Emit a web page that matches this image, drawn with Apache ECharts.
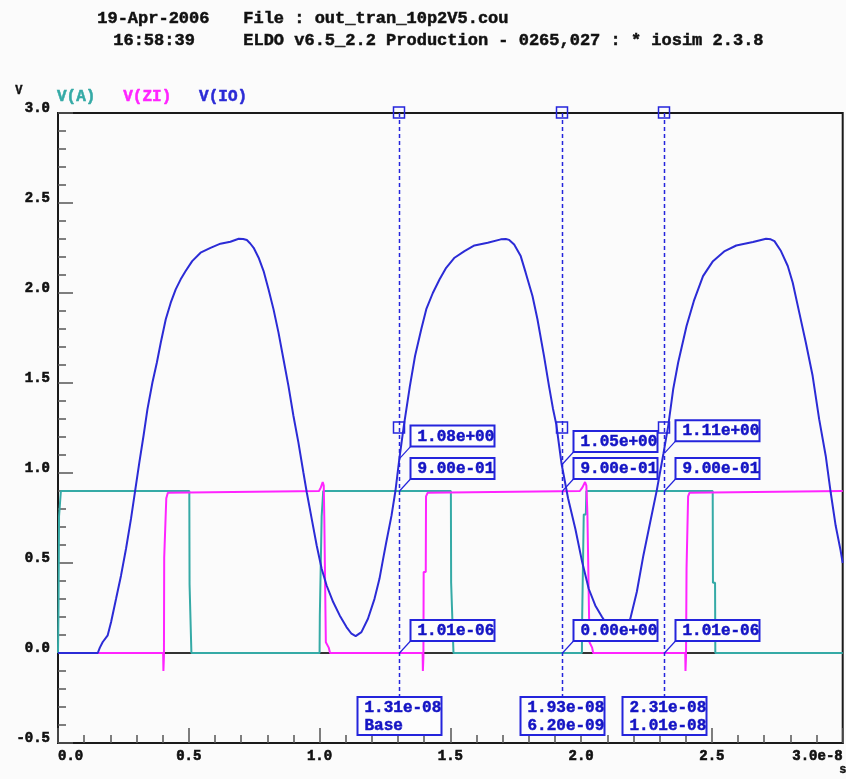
<!DOCTYPE html>
<html>
<head>
<meta charset="utf-8">
<title>ELDO transient plot</title>
<script src="https://cdn.jsdelivr.net/npm/echarts@6/dist/echarts.min.js"></script>
<style>
  html, body { margin: 0; padding: 0; background: #fbfbfb; }
  #chart { width: 846px; height: 779px; }
</style>
</head>
<body>
<div id="chart"></div>
<script>
// Time values are in units of 1e-8 s; voltages in V.
const TIME_UNIT = 1e-8;

const xTickLabels = ['0.0', '0.5', '1.0', '1.5', '2.0', '2.5', '3.0e-8'];
const yTickLabels = ['-0.5', '0.0', '0.5', '1.0', '1.5', '2.0', '2.5', '3.0'];

const headerLines = [
  ['19-Apr-2006', 'File : out_tran_10p2V5.cou'],
  ['16:58:39', 'ELDO v6.5_2.2 Production - 0265,027 : * iosim 2.3.8']
];

// V(A): input square wave
const vA = [
  [0, 0], [0.002, 0.26], [0.004, 0.76], [0.010, 0.76], [0.011, 0.9],
  [0.502, 0.9], [0.503, 0.38], [0.509, 0.38], [0.510, 0],
  [1.000, 0], [1.001, 0.21], [1.007, 0.21], [1.008, 0.76], [1.013, 0.76], [1.014, 0.9],
  [1.502, 0.9], [1.503, 0.39], [1.510, 0.39], [1.512, 0],
  [2.003, 0], [2.004, 0.20], [2.009, 0.20], [2.010, 0.77], [2.018, 0.77], [2.020, 0.9],
  [2.503, 0.9], [2.504, 0.39], [2.512, 0.39], [2.513, 0], [3.0, 0]
];

// V(ZI): enable output with glitches at the edges
const vZI = [
  [0, 0], [0.402, 0], [0.403, -0.10], [0.405, -0.02], [0.406, 0.53], [0.413, 0.53],
  [0.414, 0.86], [0.420, 0.89], [0.425, 0.9],
  [0.998, 0.9], [1.005, 0.92], [1.012, 0.95], [1.016, 0.93], [1.018, 0.76], [1.023, 0.76],
  [1.024, 0.06], [1.035, 0.03], [1.040, 0],
  [1.394, 0], [1.395, -0.10], [1.397, -0.02], [1.398, 0.45], [1.406, 0.45],
  [1.407, 0.87], [1.413, 0.89], [1.420, 0.9],
  [1.995, 0.9], [2.005, 0.92], [2.015, 0.95], [2.020, 0.93], [2.024, 0.77], [2.030, 0.77],
  [2.032, 0.06], [2.042, 0.03], [2.046, 0],
  [2.398, 0], [2.399, -0.10], [2.401, -0.02], [2.403, 0.47], [2.408, 0.47],
  [2.409, 0.87], [2.414, 0.89], [2.418, 0.9], [3.0, 0.9]
];

// V(IO): pad voltage
const vIO = [
  [0, 0], [0.152, 0], [0.160, 0.03], [0.171, 0.061], [0.190, 0.098], [0.203, 0.172],
  [0.222, 0.301], [0.241, 0.431], [0.260, 0.579], [0.279, 0.745], [0.295, 0.902],
  [0.311, 1.059], [0.327, 1.207], [0.342, 1.355], [0.361, 1.503], [0.378, 1.614],
  [0.393, 1.725], [0.412, 1.854], [0.431, 1.946], [0.450, 2.020], [0.469, 2.076],
  [0.488, 2.122], [0.513, 2.177], [0.545, 2.224], [0.583, 2.251], [0.621, 2.274],
  [0.659, 2.285], [0.691, 2.301], [0.708, 2.300], [0.722, 2.294], [0.735, 2.275],
  [0.748, 2.251], [0.767, 2.196], [0.786, 2.122], [0.805, 2.020], [0.824, 1.909],
  [0.843, 1.780], [0.862, 1.632], [0.881, 1.484], [0.900, 1.318], [0.919, 1.170],
  [0.938, 1.004], [0.951, 0.893], [0.970, 0.745], [0.989, 0.597], [1.008, 0.468],
  [1.027, 0.375], [1.052, 0.283], [1.077, 0.209], [1.103, 0.144], [1.122, 0.107],
  [1.138, 0.094], [1.160, 0.116], [1.185, 0.190], [1.210, 0.301], [1.229, 0.412],
  [1.243, 0.523], [1.255, 0.615], [1.275, 0.763], [1.290, 0.900], [1.3051, 1.080],
  [1.322, 1.260], [1.345, 1.480], [1.365, 1.650], [1.389, 1.800], [1.408, 1.910],
  [1.433, 2.000], [1.459, 2.076], [1.484, 2.140], [1.516, 2.196], [1.554, 2.233],
  [1.592, 2.264], [1.643, 2.279], [1.693, 2.298], [1.712, 2.300], [1.725, 2.295],
  [1.744, 2.270], [1.769, 2.205], [1.788, 2.113], [1.814, 1.983], [1.833, 1.854],
  [1.858, 1.651], [1.877, 1.484], [1.892, 1.360], [1.905, 1.270], [1.9253, 1.050],
  [1.950, 0.860], [1.978, 0.689], [2.004, 0.505], [2.029, 0.357], [2.054, 0.264],
  [2.080, 0.200], [2.105, 0.145], [2.122, 0.108], [2.138, 0.095], [2.160, 0.116],
  [2.188, 0.190], [2.213, 0.340], [2.238, 0.542], [2.264, 0.726], [2.289, 0.902],
  [2.3149, 1.110], [2.333, 1.262], [2.352, 1.466], [2.371, 1.614], [2.403, 1.817],
  [2.431, 1.956], [2.466, 2.094], [2.504, 2.177], [2.549, 2.233], [2.593, 2.264],
  [2.657, 2.283], [2.707, 2.301], [2.725, 2.298], [2.739, 2.288], [2.764, 2.233],
  [2.790, 2.150], [2.809, 2.057], [2.834, 1.891], [2.859, 1.725], [2.885, 1.540],
  [2.910, 1.299], [2.935, 1.096], [2.954, 0.893], [2.973, 0.708], [2.992, 0.569],
  [3.0, 0.50]
];

const cursorTimes = [1.3051, 1.9253, 2.3149];
const ioReadout = [1.08, 1.05, 1.11];
const aReadout = [0.9, 0, 0.9];
const ziReadout = [1.01e-6, 0.9, 1.01e-6];

const X_MIN = 0, X_MAX = 3.0, Y_MIN = -0.5, Y_MAX = 3.0;
const CURSOR_MARK_LEVEL = 1.25;

const TEAL = '#35aaa6';
const MAGENTA = '#ff24ff';
const BLUE = '#2b2bd6';
const CURSOR_BLUE = '#2424dc';
const BOX_TEXT = '#1414c4';
const INK = '#111';
const MONO = '"Liberation Mono", "DejaVu Sans Mono", monospace';

function fmtExp(v) {
  const s = Number(v).toExponential(2);
  return s.replace(/e([+-])(\d)$/, 'e$10$2');
}

const readoutData = [];
cursorTimes.forEach((t, i) => {
  readoutData.push([t, ioReadout[i]], [t, aReadout[i]], [t, ziReadout[i]]);
});

const chart = echarts.init(document.getElementById('chart'), null, { renderer: 'canvas' });

const graphicTexts = [];
const headerX = [[97, 243], [113, 243]];
headerLines.forEach((row, r) => {
  row.forEach((txt, c) => {
    graphicTexts.push({
      type: 'text', left: headerX[r][c], top: 10 + r * 22,
      style: { text: txt, fill: INK, stroke: INK, lineWidth: 0.5, font: 'bold 17px ' + MONO }
    });
  });
});
graphicTexts.push({
  type: 'text', left: 15, top: 85,
  style: { text: 'V', fill: INK, stroke: INK, lineWidth: 0.4, font: 'bold 12px ' + MONO }
});
graphicTexts.push({
  type: 'text', left: 839, top: 764,
  style: { text: 's', fill: INK, stroke: INK, lineWidth: 0.4, font: 'bold 12px ' + MONO }
});

const tickLabelStyle = {
  color: INK, fontFamily: MONO, fontWeight: 'bold', fontSize: 14,
  textBorderColor: INK, textBorderWidth: 0.6
};

const option = {
  backgroundColor: '#fbfbfb',
  animation: false,
  graphic: graphicTexts,
  legend: {
    left: 47, top: 84,
    icon: 'none', itemWidth: 0, itemHeight: 14, itemGap: 22.6,
    selectedMode: false,
    textStyle: { fontFamily: MONO, fontWeight: 'bold', fontSize: 16 },
    data: [
      { name: 'V(A)', textStyle: { color: TEAL, textBorderColor: TEAL, textBorderWidth: 0.5 } },
      { name: 'V(ZI)', textStyle: { color: MAGENTA, textBorderColor: MAGENTA, textBorderWidth: 0.5 } },
      { name: 'V(IO)', textStyle: { color: BLUE, textBorderColor: BLUE, textBorderWidth: 0.5 } }
    ]
  },
  grid: {
    left: 58, top: 113, width: 789, bottom: 36,
    show: true, borderColor: '#1a1a1a', borderWidth: 2, backgroundColor: 'transparent'
  },
  xAxis: {
    type: 'value', min: X_MIN, max: X_MAX, interval: 0.5,
    axisLine: { show: true, onZero: false, lineStyle: { color: '#1a1a1a', width: 2 } },
    axisTick: { show: true, inside: true, length: 15, lineStyle: { color: '#555', width: 1.5 } },
    minorTick: { show: true, splitNumber: 5, length: 8, lineStyle: { color: '#555', width: 1.5 } },
    splitLine: { show: false },
    axisLabel: Object.assign({
      margin: 6, alignMinLabel: 'left', alignMaxLabel: 'right',
      formatter: (v) => xTickLabels[Math.round(v / 0.5)]
    }, tickLabelStyle)
  },
  yAxis: {
    type: 'value', min: Y_MIN, max: Y_MAX, interval: 0.5,
    axisLine: { show: true, onZero: false, lineStyle: { color: '#1a1a1a', width: 2 } },
    axisTick: { show: true, inside: true, length: 15, lineStyle: { color: '#555', width: 1.5 } },
    minorTick: { show: true, splitNumber: 5, length: 8, lineStyle: { color: '#555', width: 1.5 } },
    splitLine: { show: false },
    axisLabel: Object.assign({
      margin: 8, verticalAlign: 'bottom', lineHeight: 10,
      formatter: (v) => yTickLabels[Math.round((v - Y_MIN) / 0.5)]
    }, tickLabelStyle)
  },
  series: [
    {
      name: 'zero', type: 'line', data: [[X_MIN, 0], [X_MAX, 0]],
      showSymbol: false, silent: true, z: 1,
      lineStyle: { color: '#333', width: 2 }
    },
    {
      name: 'V(A)', type: 'line', data: vA, showSymbol: false, z: 2,
      lineStyle: { color: TEAL, width: 2 }, itemStyle: { color: TEAL }
    },
    {
      name: 'V(ZI)', type: 'line', data: vZI, showSymbol: false, z: 3,
      lineStyle: { color: MAGENTA, width: 2 }, itemStyle: { color: MAGENTA }
    },
    {
      name: 'V(IO)', type: 'line', data: vIO, showSymbol: false, z: 4,
      lineStyle: { color: BLUE, width: 2 }, itemStyle: { color: BLUE }
    },
    {
      // cursor lines, marker squares and the time / delta boxes
      name: 'cursors', type: 'custom', z: 10, silent: true,
      data: cursorTimes.map((t) => [t]),
      renderItem: (params, api) => {
        const t = api.value(0);
        const top = api.coord([t, Y_MAX]);
        const mid = api.coord([t, CURSOR_MARK_LEVEL]);
        const cs = params.coordSys;
        const gridBottom = cs.y + cs.height;
        const boxTop = gridBottom - 46;
        const x = Math.round(top[0]) + 0.5;
        const idx = params.dataIndex;
        const line2 = idx === 0 ? 'Base' : fmtExp((t - cursorTimes[0]) * TIME_UNIT);
        const textStyle = { fill: BOX_TEXT, stroke: BOX_TEXT, lineWidth: 0.5,
          font: 'bold 16px ' + MONO, verticalAlign: 'middle' };
        return {
          type: 'group',
          children: [
            { type: 'line', shape: { x1: x, y1: top[1], x2: x, y2: boxTop },
              style: { stroke: CURSOR_BLUE, lineWidth: 1.5, lineDash: [4, 3] } },
            { type: 'rect', shape: { x: x - 6, y: top[1] - 6, width: 11, height: 11 },
              style: { fill: 'none', stroke: CURSOR_BLUE, lineWidth: 1.5 } },
            { type: 'rect', shape: { x: x - 6, y: mid[1] - 6, width: 11, height: 11 },
              style: { fill: 'none', stroke: CURSOR_BLUE, lineWidth: 1.5 } },
            { type: 'rect', shape: { x: x - 42, y: boxTop, width: 84, height: 38 },
              style: { fill: '#fdfdfd', stroke: CURSOR_BLUE, lineWidth: 2 } },
            { type: 'text', style: Object.assign({ x: x - 35, y: boxTop + 11,
              text: fmtExp(t * TIME_UNIT) }, textStyle) },
            { type: 'text', style: Object.assign({ x: x - 35, y: boxTop + 29,
              text: line2 }, textStyle) }
          ]
        };
      }
    },
    {
      // value readouts at each cursor, with leader lines to the traces
      name: 'readouts', type: 'custom', z: 11, silent: true,
      data: readoutData,
      renderItem: (params, api) => {
        const v = api.value(1);
        const p = api.coord([api.value(0), v]);
        const px = Math.round(p[0]) + 0.5;
        const py = p[1];
        return {
          type: 'group',
          children: [
            { type: 'line', shape: { x1: px, y1: py, x2: px + 11, y2: py - 12 },
              style: { stroke: CURSOR_BLUE, lineWidth: 1.2 } },
            { type: 'rect', shape: { x: px + 11, y: py - 33, width: 84, height: 21 },
              style: { fill: '#fdfdfd', stroke: CURSOR_BLUE, lineWidth: 2 } },
            { type: 'text', style: { x: px + 18, y: py - 22, text: fmtExp(v),
              fill: BOX_TEXT, stroke: BOX_TEXT, lineWidth: 0.5,
              font: 'bold 16px ' + MONO, verticalAlign: 'middle' } }
          ]
        };
      }
    }
  ]
};

chart.setOption(option);
</script>
</body>
</html>
